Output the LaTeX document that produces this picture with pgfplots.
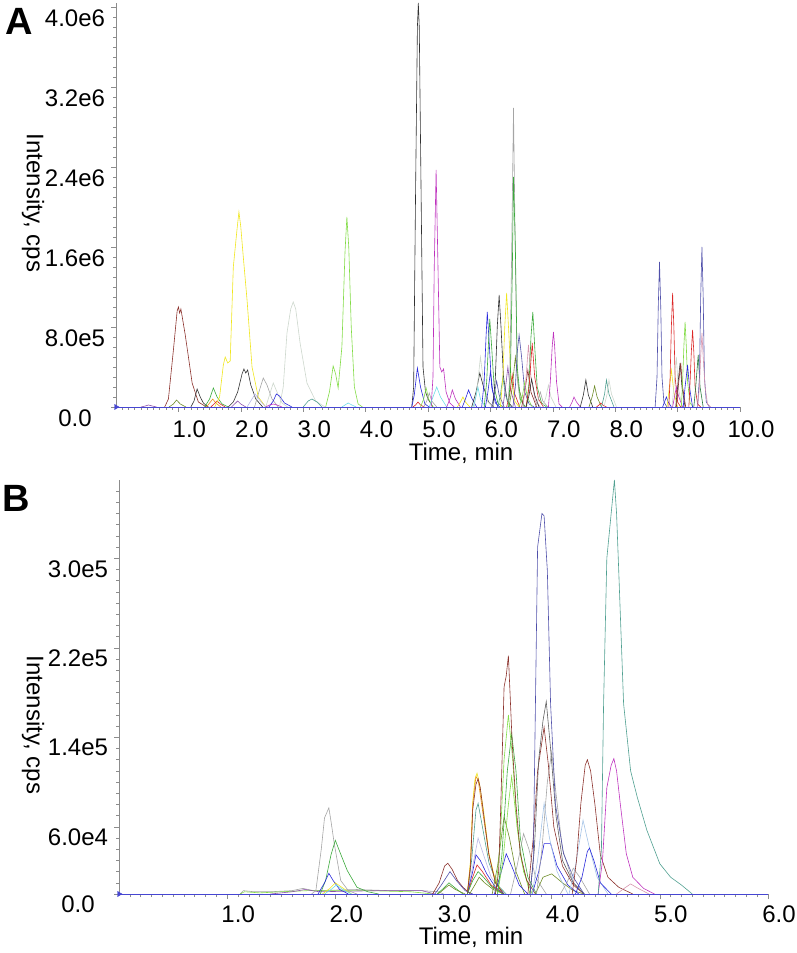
\documentclass[border=0pt]{standalone}
\usepackage{fontspec}
\setmainfont{Liberation Sans}
\usepackage{pgfplots}
\pgfplotsset{compat=1.18}
\definecolor{brn}{RGB}{140,50,45}
\definecolor{yel}{RGB}{240,230,30}
\definecolor{grn}{RGB}{60,170,60}
\definecolor{lgrn}{RGB}{130,220,70}
\definecolor{blu}{RGB}{40,40,220}
\definecolor{slt}{RGB}{80,80,170}
\definecolor{mag}{RGB}{190,50,190}
\definecolor{gry}{RGB}{165,165,165}
\definecolor{lgry}{RGB}{205,215,205}
\definecolor{blk}{RGB}{50,50,50}
\definecolor{rd}{RGB}{220,40,40}
\definecolor{tea}{RGB}{80,160,145}
\definecolor{cya}{RGB}{110,220,230}
\definecolor{olv}{RGB}{110,140,40}
\definecolor{org}{RGB}{235,150,30}
\definecolor{lav}{RGB}{185,185,230}
\definecolor{pnk}{RGB}{215,150,175}
\definecolor{dgrn}{RGB}{40,120,60}
\definecolor{lblu}{RGB}{165,195,230}
\definecolor{pur}{RGB}{140,80,170}
\definecolor{dgry}{RGB}{95,95,95}
\definecolor{axg}{RGB}{140,140,140}
\definecolor{base}{RGB}{70,70,210}
\pgfplotsset{
  tr/.style={line width=0.6bp, no marks},
  chrom/.style={
    scale only axis,
    axis lines=left,
    axis line style={axg, line width=0.8bp, -},
    tick style={axg, line width=0.6bp},
    tick align=outside,
    major tick length=5bp,
    minor tick length=3bp,
    ymin=0,
    tick label style={font=\fontsize{24bp}{28bp}\selectfont},
    clip=false,
  },
}
\begin{document}
\begin{tikzpicture}
\path[use as bounding box] (0,0) rectangle (797bp,953bp);
% ---------------- Panel A ----------------
\begin{axis}[chrom,
  at={(116bp,546bp)}, anchor=south west,
  width=624bp, height=404bp,
  xmin=0, xmax=10, ymax=4.04e6,
  xtick={1,2,3,4,5,6,7,8,9,10},
  xticklabels={1.0,2.0,3.0,4.0,5.0,6.0,7.0,8.0,9.0,10.0},
  minor xtick={0.1,0.2,...,9.95},
  ytick={0,800000,1600000,2400000,3200000,4000000},
  yticklabels={0.0,8.0e5,1.6e6,2.4e6,3.2e6,4.0e6},
  minor ytick={100000,200000,...,4000000},
  scaled y ticks=false,
  xticklabel style={anchor=center, xshift=11bp, yshift=-17bp},
  yticklabel style={anchor=center, xshift=-36bp, yshift=-11bp},
]
\addplot[tr,brn] coordinates {(0.78,0)(0.84,8e4)(0.92,5.7e5)(0.98,9.6e5)(1.00,1.0e6)(1.02,9.4e5)(1.04,9.8e5)(1.11,7.2e5)(1.22,2.4e5)(1.32,5e4)(1.45,0)};
\addplot[tr,olv] coordinates {(0.85,0)(0.92,3e4)(0.97,7e4)(1.03,3e4)(1.12,0)};
\addplot[tr,pur] coordinates {(0.4,0)(0.47,1e4)(0.52,2e4)(0.58,1e4)(0.65,0)};
\addplot[tr,blk] coordinates {(1.20,0)(1.25,6e4)(1.30,1.8e5)(1.35,1e5)(1.40,4e4)(1.48,0)};
\addplot[tr,grn] coordinates {(1.42,0)(1.50,8e4)(1.56,1.9e5)(1.62,1e5)(1.70,3e4)(1.80,0)};
\addplot[tr,org] coordinates {(1.45,0)(1.50,4e4)(1.55,8e4)(1.60,4e4)(1.68,0)};
\addplot[tr,rd] coordinates {(1.52,0)(1.57,3e4)(1.62,6e4)(1.67,3e4)(1.75,0)};
\addplot[tr,yel] coordinates {(1.58,0)(1.66,1e5)(1.72,4.2e5)(1.75,5e5)(1.79,4.4e5)(1.83,4.6e5)(1.88,1.4e6)(1.94,1.78e6)(1.97,1.95e6)(2.00,1.8e6)(2.04,1.5e6)(2.10,1.07e6)(2.18,4e5)(2.28,1e5)(2.4,0)};
\addplot[tr,blk] coordinates {(1.80,0)(1.88,5e4)(1.95,1.5e5)(2.02,3.3e5)(2.05,3.8e5)(2.08,3.4e5)(2.11,3.7e5)(2.16,2.2e5)(2.24,8e4)(2.35,0)};
\addplot[tr,pur] coordinates {(1.85,0)(1.90,3e4)(1.95,6e4)(2.00,3e4)(2.08,0)};
\addplot[tr,lav] coordinates {(2.10,0)(2.18,8e4)(2.23,1.3e5)(2.30,7e4)(2.40,0)};
\addplot[tr,gry] coordinates {(2.22,0)(2.29,1.5e5)(2.36,2.9e5)(2.42,2.2e5)(2.50,8e4)(2.60,0)};
\addplot[tr,lgry] coordinates {(2.40,0)(2.47,1.4e5)(2.52,2.4e5)(2.58,1.5e5)(2.66,4e4)(2.75,0)};
\addplot[tr,blu] coordinates {(2.45,0)(2.52,6e4)(2.57,1.3e5)(2.62,1.1e5)(2.70,4e4)(2.82,0)};
\addplot[tr,mag] coordinates {(2.40,0)(2.46,2e4)(2.52,3e4)(2.58,2e4)(2.66,0)};
\addplot[tr,lgry] coordinates {(2.62,0)(2.68,2e5)(2.74,7.4e5)(2.80,9.8e5)(2.84,1.05e6)(2.88,9.8e5)(2.95,6.4e5)(3.06,2.4e5)(3.20,6e4)(3.35,0)};
\addplot[tr,tea] coordinates {(3.00,0)(3.08,6e4)(3.14,8e4)(3.22,5e4)(3.30,0)};
\addplot[tr,lgrn] coordinates {(3.36,0)(3.42,1.5e5)(3.48,4.1e5)(3.52,3.3e5)(3.56,1.9e5)(3.62,6e5)(3.67,1.55e6)(3.70,1.9e6)(3.73,1.6e6)(3.77,8e5)(3.82,2e5)(3.88,3e4)(3.95,0)};
\addplot[tr,cya] coordinates {(3.62,0)(3.67,2e4)(3.72,4e4)(3.78,2e4)(3.85,0)};
% 4.7 - 5.7
\addplot[tr,blk] coordinates {(4.74,0)(4.77,2e5)(4.80,2.1e6)(4.83,3.8e6)(4.845,4.04e6)(4.86,3.8e6)(4.89,2.1e6)(4.92,4e5)(4.96,1.5e5)(5.0,8e4)(5.08,0)};
\addplot[tr,blu] coordinates {(4.74,0)(4.78,1.2e5)(4.83,3.9e5)(4.88,2e5)(4.95,3e4)(5.02,0)};
\addplot[tr,rd] coordinates {(4.76,0)(4.80,2e4)(4.84,5e4)(4.88,2e4)(4.94,0)};
\addplot[tr,lgrn] coordinates {(4.88,0)(4.93,8e4)(4.97,1.9e5)(5.01,8e4)(5.08,0)};
\addplot[tr,gry] coordinates {(4.93,0)(4.98,6e4)(5.02,1.4e5)(5.06,6e4)(5.14,0)};
\addplot[tr,mag] coordinates {(5.05,0)(5.08,3e5)(5.10,1.4e6)(5.13,2.37e6)(5.16,1.4e6)(5.19,4e5)(5.22,3.5e5)(5.25,3.8e5)(5.29,1.5e5)(5.35,4e4)(5.42,0)};
\addplot[tr,cya] coordinates {(5.02,0)(5.08,1e5)(5.14,2e5)(5.20,1e5)(5.30,0)};
\addplot[tr,mag] coordinates {(5.30,0)(5.35,8e4)(5.39,1.7e5)(5.44,8e4)(5.52,0)};
\addplot[tr,yel] coordinates {(5.47,0)(5.52,5e4)(5.56,1e5)(5.60,5e4)(5.67,0)};
\addplot[tr,blu] coordinates {(5.55,0)(5.60,8e4)(5.65,1.7e5)(5.70,9e4)(5.78,0)};
% cluster 5.7 - 7.1
\addplot[tr,blk] coordinates {(5.70,0)(5.77,1.5e5)(5.83,3.4e5)(5.89,2e5)(5.97,5e4)(6.05,0)};
\addplot[tr,lgry] coordinates {(5.74,0)(5.79,2e5)(5.84,5e5)(5.89,2.5e5)(5.96,5e4)(6.04,0)};
\addplot[tr,cya] coordinates {(5.72,0)(5.76,8e4)(5.80,2e5)(5.84,8e4)(5.92,0)};
\addplot[tr,blu] coordinates {(5.86,0)(5.90,2.5e5)(5.93,7e5)(5.95,9.5e5)(5.98,6.5e5)(6.02,2e5)(6.08,4e4)(6.15,0)};
\addplot[tr,grn] coordinates {(5.90,0)(5.94,2.5e5)(5.97,6.5e5)(5.99,8.8e5)(6.02,6e5)(6.06,2e5)(6.12,4e4)(6.20,0)};
\addplot[tr,blu] coordinates {(5.92,0)(5.96,1.5e5)(6.00,3.5e5)(6.04,1.5e5)(6.12,0)};
\addplot[tr,slt] coordinates {(6.02,0)(6.06,1.2e5)(6.10,2.6e5)(6.14,1.2e5)(6.22,0)};
\addplot[tr,blk] coordinates {(6.04,0)(6.08,3e5)(6.11,8e5)(6.14,1.12e6)(6.17,8e5)(6.21,3e5)(6.27,6e4)(6.35,0)};
\addplot[tr,tea] coordinates {(6.12,0)(6.16,1.2e5)(6.20,3e5)(6.24,1.2e5)(6.32,0)};
\addplot[tr,pur] coordinates {(6.20,0)(6.24,1.8e5)(6.28,4e5)(6.32,1.8e5)(6.40,0)};
\addplot[tr,yel] coordinates {(6.16,0)(6.20,3e5)(6.23,8e5)(6.26,1.14e6)(6.29,8e5)(6.33,3e5)(6.39,6e4)(6.46,0)};
\addplot[tr,rd] coordinates {(6.26,0)(6.31,1.3e5)(6.35,3.2e5)(6.39,1.3e5)(6.47,0)};
\addplot[tr,olv] coordinates {(6.30,0)(6.35,2e5)(6.40,5e5)(6.45,2e5)(6.54,0)};
\addplot[tr,gry] coordinates {(6.28,0)(6.31,3e5)(6.34,1.5e6)(6.37,2.99e6)(6.40,1.5e6)(6.43,3e5)(6.47,8e4)(6.55,0)};
\addplot[tr,grn] coordinates {(6.29,0)(6.32,3e5)(6.35,1.3e6)(6.37,2.3e6)(6.40,1.6e6)(6.43,4e5)(6.48,8e4)(6.56,0)};
\addplot[tr,slt] coordinates {(6.36,0)(6.40,2e5)(6.43,5.5e5)(6.46,7.2e5)(6.50,5e5)(6.55,1.5e5)(6.62,3e4)(6.70,0)};
\addplot[tr,lgrn] coordinates {(6.46,0)(6.51,1e5)(6.55,2.5e5)(6.59,1e5)(6.67,0)};
\addplot[tr,brn] coordinates {(6.50,0)(6.55,1.5e5)(6.60,3.7e5)(6.65,1.5e5)(6.74,0)};
\addplot[tr,pnk] coordinates {(6.52,0)(6.56,2e5)(6.61,6.2e5)(6.65,3e5)(6.72,6e4)(6.80,0)};
\addplot[tr,grn] coordinates {(6.58,0)(6.62,2.5e5)(6.65,7e5)(6.68,9.5e5)(6.71,6e5)(6.75,2e5)(6.82,4e4)(6.90,0)};
\addplot[tr,rd] coordinates {(6.57,0)(6.62,2e5)(6.67,6.4e5)(6.71,3e5)(6.77,8e4)(6.85,0)};
\addplot[tr,blk] coordinates {(6.57,0)(6.62,1.2e5)(6.66,2.8e5)(6.71,1.2e5)(6.78,0)};
\addplot[tr,gry] coordinates {(6.72,0)(6.76,6e4)(6.80,1.5e5)(6.84,6e4)(6.92,0)};
\addplot[tr,lgry] coordinates {(6.84,0)(6.89,1e5)(6.93,2.2e5)(6.97,1e5)(7.05,0)};
\addplot[tr,mag] coordinates {(6.93,0)(6.96,2.5e5)(6.99,6e5)(7.01,7.5e5)(7.03,6e5)(7.06,2.5e5)(7.10,3e4)(7.15,0)};
% 7.2 - 8.0
\addplot[tr,mag] coordinates {(7.27,0)(7.31,5e4)(7.34,1e5)(7.38,5e4)(7.44,0)};
\addplot[tr,blk] coordinates {(7.44,0)(7.49,1.2e5)(7.53,2.7e5)(7.57,1.2e5)(7.64,0)};
\addplot[tr,olv] coordinates {(7.58,0)(7.63,1e5)(7.67,2.1e5)(7.71,1e5)(7.78,0)};
\addplot[tr,rd] coordinates {(7.70,0)(7.74,2e4)(7.77,4e4)(7.80,2e4)(7.86,0)};
\addplot[tr,tea] coordinates {(7.78,0)(7.83,1.3e5)(7.86,2.7e5)(7.90,1.3e5)(7.98,0)};
\addplot[tr,lgry] coordinates {(7.82,0)(7.87,1.3e5)(7.90,2.7e5)(7.94,1.3e5)(8.02,0)};
% 8.6 - 9.5
\addplot[tr,slt] coordinates {(8.64,0)(8.67,3e5)(8.69,1e6)(8.71,1.45e6)(8.73,1e6)(8.75,3e5)(8.78,5e4)(8.83,0)};
\addplot[tr,blu] coordinates {(8.76,0)(8.79,5e4)(8.82,1e5)(8.85,5e4)(8.90,0)};
\addplot[tr,yel] coordinates {(8.83,0)(8.86,1.5e5)(8.90,3.7e5)(8.94,1.5e5)(9.00,0)};
\addplot[tr,rd] coordinates {(8.86,0)(8.88,3e5)(8.90,8e5)(8.92,1.14e6)(8.94,8e5)(8.96,3e5)(9.00,5e4)(9.05,0)};
\addplot[tr,lgry] coordinates {(8.91,0)(8.94,2e5)(8.98,5e5)(9.01,2e5)(9.07,0)};
\addplot[tr,mag] coordinates {(8.92,0)(8.95,1e5)(8.98,2e5)(9.02,1e5)(9.08,0)};
\addplot[tr,blk] coordinates {(8.97,0)(9.00,2e5)(9.04,4.4e5)(9.07,2e5)(9.12,0)};
\addplot[tr,brn] coordinates {(8.98,0)(9.01,2e5)(9.05,4.4e5)(9.08,2e5)(9.13,0)};
\addplot[tr,lgrn] coordinates {(9.06,0)(9.08,2.5e5)(9.10,6e5)(9.12,8.5e5)(9.14,6e5)(9.16,2.5e5)(9.20,4e4)(9.25,0)};
\addplot[tr,blu] coordinates {(9.09,0)(9.12,2e5)(9.16,4.2e5)(9.19,2e5)(9.24,0)};
\addplot[tr,rd] coordinates {(9.18,0)(9.20,2.5e5)(9.22,5.5e5)(9.24,7.7e5)(9.26,5.5e5)(9.28,2e5)(9.32,3e4)(9.37,0)};
\addplot[tr,dgrn] coordinates {(9.26,0)(9.29,2e5)(9.33,5.2e5)(9.36,2e5)(9.41,0)};
\addplot[tr,slt] coordinates {(9.32,0)(9.35,3e5)(9.37,1.1e6)(9.39,1.6e6)(9.41,1.1e6)(9.43,3e5)(9.46,5e4)(9.51,0)};
\addplot[tr,pnk] coordinates {(9.32,0)(9.35,2e5)(9.37,5e5)(9.39,7.4e5)(9.41,5e5)(9.44,2e5)(9.48,3e4)(9.53,0)};
% baseline and start marker
\addplot[line width=0.8bp, base, no marks] coordinates {(0,0)(10,0)};
\addplot[only marks, mark=triangle*, mark size=3bp, mark options={base, rotate=-90}] coordinates {(0,0)};
\end{axis}
% ---------------- Panel B ----------------
\begin{axis}[chrom,
  at={(119bp,59bp)}, anchor=south west,
  width=649bp, height=414bp,
  xmin=0, xmax=6, ymax=3.70e5,
  xtick={1,2,3,4,5,6},
  xticklabels={1.0,2.0,3.0,4.0,5.0,6.0},
  minor xtick={0.1,0.2,...,5.95},
  ytick={0,60000,140000,220000,300000},
  yticklabels={0.0,6.0e4,1.4e5,2.2e5,3.0e5},
  minor ytick={10000,20000,...,360000},
  scaled y ticks=false,
  xticklabel style={anchor=center, xshift=11bp, yshift=-15bp},
  yticklabel style={anchor=center, xshift=-36bp, yshift=-10.5bp},
]
\addplot[tr,gry] coordinates {(1.12,0)(1.15,3e3)(1.25,2e3)(1.40,2e3)(1.60,3e3)(1.70,5e3)(1.80,3e3)(2.20,4e3)(2.50,3e3)(2.80,3e3)(2.95,2e3)(3.0,0)};
\addplot[tr,lgrn] coordinates {(1.12,0)(1.16,2e3)(1.30,1e3)(1.50,2e3)(1.75,3e3)(2.30,3e3)(2.70,2e3)(2.90,0)};
\addplot[tr,pur] coordinates {(1.40,0)(1.60,2e3)(1.72,4e3)(1.85,2e3)(2.40,3e3)(2.80,3e3)(2.92,0)};
\addplot[tr,gry] coordinates {(1.78,0)(1.82,3e3)(1.87,4e4)(1.90,6.8e4)(1.94,7.7e4)(1.96,6.5e4)(1.99,4.5e4)(2.05,1.2e4)(2.12,3e3)(2.20,0)};
\addplot[tr,grn] coordinates {(1.86,0)(1.91,1.2e4)(1.96,3.5e4)(2.00,4.8e4)(2.04,3.8e4)(2.11,2.1e4)(2.20,6e3)(2.30,2e3)(2.40,0)};
\addplot[tr,blu] coordinates {(1.84,0)(1.90,1e4)(1.94,1.85e4)(1.98,1.2e4)(2.04,4e3)(2.12,0)};
\addplot[tr,yel] coordinates {(1.88,0)(1.95,5e3)(2.00,1e4)(2.06,6e3)(2.15,0)};
\addplot[tr,cya] coordinates {(1.90,0)(1.96,4e3)(2.01,8e3)(2.07,4e3)(2.15,0)};
% 3.0
\addplot[tr,brn] coordinates {(2.90,0)(2.96,1e4)(3.01,2.5e4)(3.04,2.75e4)(3.08,2.2e4)(3.13,1.2e4)(3.18,6e3)(3.25,0)};
\addplot[tr,slt] coordinates {(2.92,0)(2.98,8e3)(3.06,2e4)(3.12,1.2e4)(3.20,3e3)(3.27,0)};
\addplot[tr,grn] coordinates {(2.94,0)(3.00,5e3)(3.05,1e4)(3.10,6e3)(3.18,0)};
\addplot[tr,olv] coordinates {(2.95,0)(3.00,4e3)(3.05,8e3)(3.11,4e3)(3.20,0)};
% 3.3
\addplot[tr,lav] coordinates {(3.22,0)(3.27,2.5e4)(3.32,5e4)(3.37,3.5e4)(3.44,1.5e4)(3.55,0)};
\addplot[tr,tea] coordinates {(3.22,0)(3.26,3e4)(3.30,7.5e4)(3.32,8.1e4)(3.36,6e4)(3.42,2.8e4)(3.50,8e3)(3.58,0)};
\addplot[tr,yel] coordinates {(3.22,0)(3.25,3e4)(3.27,8.2e4)(3.29,1.02e5)(3.31,1.08e5)(3.33,1.0e5)(3.37,7.5e4)(3.42,3.6e4)(3.48,1.2e4)(3.55,0)};
\addplot[tr,org] coordinates {(3.22,0)(3.25,2.8e4)(3.27,8e4)(3.30,1.05e5)(3.32,1.02e5)(3.36,7.5e4)(3.42,3.5e4)(3.48,1e4)(3.55,0)};
\addplot[tr,brn] coordinates {(3.22,0)(3.25,2.5e4)(3.27,7.5e4)(3.30,9.8e4)(3.32,1.03e5)(3.34,9.5e4)(3.37,7.2e4)(3.42,3.5e4)(3.48,1e4)(3.56,0)};
\addplot[tr,blu] coordinates {(3.22,0)(3.27,2e4)(3.30,3.5e4)(3.34,3e4)(3.40,1.8e4)(3.48,6e3)(3.56,0)};
\addplot[tr,rd] coordinates {(3.22,0)(3.27,1.5e4)(3.31,2.6e4)(3.36,2e4)(3.44,8e3)(3.55,0)};
\addplot[tr,grn] coordinates {(3.22,0)(3.27,1.2e4)(3.32,2e4)(3.37,1.5e4)(3.45,6e3)(3.55,0)};
\addplot[tr,olv] coordinates {(3.24,0)(3.29,8e3)(3.33,1.5e4)(3.38,1e4)(3.46,4e3)(3.56,0)};
% 3.6
\addplot[tr,olv] coordinates {(3.45,0)(3.50,2.5e4)(3.56,6.9e4)(3.61,5e4)(3.67,2e4)(3.75,0)};
\addplot[tr,blu] coordinates {(3.47,0)(3.52,1.5e4)(3.58,3.6e4)(3.63,2.5e4)(3.70,8e3)(3.78,0)};
\addplot[tr,lgrn] coordinates {(3.50,0)(3.55,3e4)(3.60,8e4)(3.63,1.05e5)(3.67,7e4)(3.72,3e4)(3.80,0)};
\addplot[tr,grn] coordinates {(3.50,0)(3.54,3.5e4)(3.59,1.1e5)(3.63,1.43e5)(3.67,1.1e5)(3.71,5e4)(3.78,1.5e4)(3.86,0)};
\addplot[tr,lgrn] coordinates {(3.48,0)(3.52,4e4)(3.56,1.2e5)(3.60,1.6e5)(3.64,1.2e5)(3.68,6e4)(3.74,2e4)(3.82,0)};
\addplot[tr,brn] coordinates {(3.48,0)(3.51,2e4)(3.53,8e4)(3.56,1.85e5)(3.58,1.95e5)(3.60,2.13e5)(3.615,1.8e5)(3.635,1.35e5)(3.67,8e4)(3.71,3.6e4)(3.77,1.2e4)(3.85,0)};
\addplot[tr,gry] coordinates {(3.62,0)(3.68,2.5e4)(3.74,5.4e4)(3.79,4e4)(3.85,1.5e4)(3.95,0)};
% 3.9
\addplot[tr,olv] coordinates {(3.85,0)(3.92,1.5e4)(4.00,1.8e4)(4.10,1e4)(4.20,3e3)(4.30,0)};
\addplot[tr,blu] coordinates {(3.82,0)(3.88,2e4)(3.93,4.5e4)(3.99,4.5e4)(4.05,2.5e4)(4.15,8e3)(4.25,0)};
\addplot[tr,lblu] coordinates {(3.82,0)(3.87,3e4)(3.93,8.1e4)(3.98,5e4)(4.05,2e4)(4.15,0)};
\addplot[tr,gry] coordinates {(3.86,0)(3.91,4e4)(3.96,1e5)(4.00,1.27e5)(4.04,9e4)(4.10,4e4)(4.20,1e4)(4.30,0)};
\addplot[tr,brn] coordinates {(3.78,0)(3.83,5e4)(3.87,1.1e5)(3.93,1.49e5)(3.97,1.15e5)(4.02,6e4)(4.10,2.5e4)(4.20,8e3)(4.30,0)};
\addplot[tr,dgry] coordinates {(3.80,0)(3.84,4e4)(3.88,1.2e5)(3.92,1.55e5)(3.95,1.72e5)(3.99,1.3e5)(4.04,7e4)(4.10,3e4)(4.20,1e4)(4.30,0)};
\addplot[tr,slt] coordinates {(3.80,0)(3.83,3e4)(3.85,1.7e5)(3.87,3.1e5)(3.89,3.25e5)(3.91,3.4e5)(3.93,3.38e5)(3.96,2.89e5)(3.99,1.7e5)(4.035,8e4)(4.11,3.6e4)(4.20,1.5e4)(4.30,0)};
% 4.2 - 4.6
\addplot[tr,gry] coordinates {(4.08,0)(4.14,1e4)(4.20,2.3e4)(4.26,1.5e4)(4.35,0)};
\addplot[tr,lblu] coordinates {(4.16,0)(4.22,2.5e4)(4.29,6.6e4)(4.34,4.5e4)(4.42,1.5e4)(4.52,0)};
\addplot[tr,blu] coordinates {(4.22,0)(4.28,1.5e4)(4.33,3.8e4)(4.35,4.1e4)(4.39,3e4)(4.45,1e4)(4.55,0)};
\addplot[tr,brn] coordinates {(4.19,0)(4.23,3e4)(4.27,8.1e4)(4.31,1.15e5)(4.33,1.2e5)(4.36,1.1e5)(4.40,8e4)(4.45,3.5e4)(4.52,1.5e4)(4.62,6e3)(4.75,0)};
\addplot[tr,mag] coordinates {(4.43,0)(4.47,3e4)(4.51,9.5e4)(4.55,1.15e5)(4.575,1.21e5)(4.60,1.1e5)(4.635,8e4)(4.69,3.6e4)(4.75,1.5e4)(4.85,5e3)(4.95,0)};
\addplot[tr,pnk] coordinates {(4.60,0)(4.67,5e3)(4.73,9e3)(4.80,5e3)(4.90,0)};
\addplot[tr,tea] coordinates {(4.43,0)(4.46,4e4)(4.48,1.7e5)(4.51,3.0e5)(4.535,3.25e5)(4.56,3.5e5)(4.58,3.7e5)(4.60,3.4e5)(4.62,2.89e5)(4.665,1.7e5)(4.73,1.1e5)(4.79,8.7e4)(4.88,5.7e4)(5.0,2.7e4)(5.1,1.5e4)(5.2,8e3)(5.3,0)};
% baseline and start marker
\addplot[line width=0.8bp, base, no marks] coordinates {(0,0)(6,0)};
\addplot[only marks, mark=triangle*, mark size=3bp, mark options={base, rotate=-90}] coordinates {(0,0)};
\end{axis}
% ---------------- Labels ----------------
\node[font=\fontsize{38bp}{44bp}\selectfont\bfseries] at (19bp,932bp) {A};
\node[font=\fontsize{38bp}{44bp}\selectfont\bfseries] at (16bp,455bp) {B};
\node[font=\fontsize{24bp}{28bp}\selectfont, rotate=-90] at (33bp,750bp) {Intensity, cps};
\node[font=\fontsize{24bp}{28bp}\selectfont, rotate=-90] at (33bp,228bp) {Intensity, cps};
\node[font=\fontsize{24bp}{28bp}\selectfont] at (461bp,500bp) {Time, min};
\node[font=\fontsize{24bp}{28bp}\selectfont] at (471bp,16bp) {Time, min};
\end{tikzpicture}
\end{document}
